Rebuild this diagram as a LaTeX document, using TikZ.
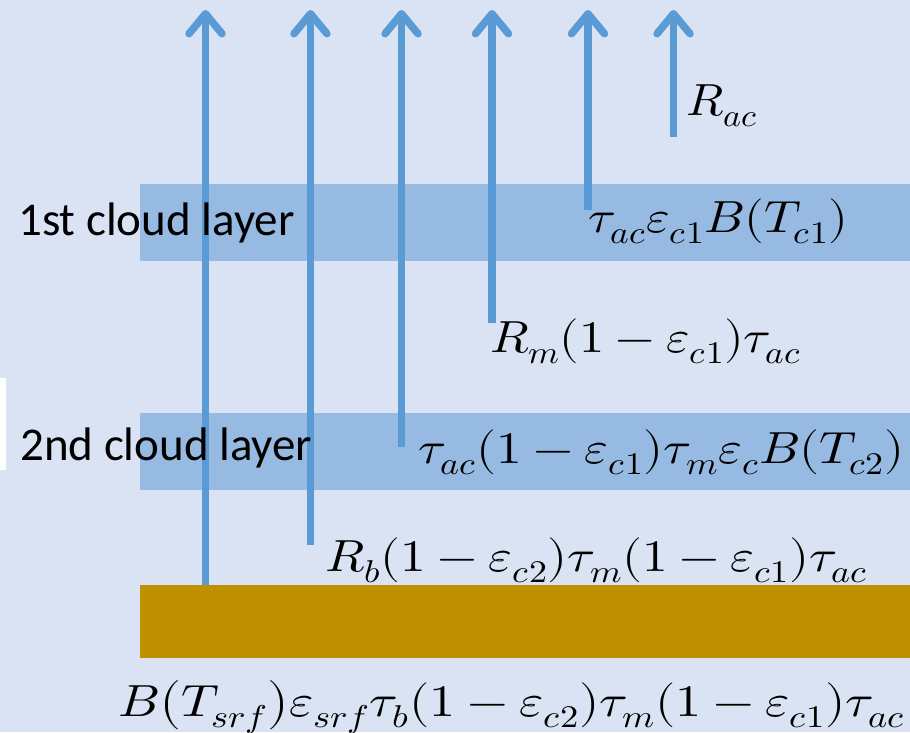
\documentclass[tikz,border=0pt]{standalone}
\usepackage{fontspec}
\usepackage{unicode-math}
\usepackage{graphicx}
\setmainfont{Carlito}
\usetikzlibrary{arrows.meta}
\definecolor{bg}{HTML}{DAE3F3}
\definecolor{arr}{HTML}{5B9BD5}
\definecolor{cloudc}{RGB}{150,186,225}
\definecolor{groundc}{HTML}{BF9000}
\newcommand\widemath[2]{\scalebox{#1}[1]{$#2$}}
\tikzset{
  up/.style={draw=arr, line width=7.5pt, line cap=butt,
    -{Straight Barb[length=20pt,width=33pt,line cap=round,round]}},
  lbl/.style={anchor=base west, inner sep=0pt, font=\fontsize{47}{56}\selectfont},
  eq/.style={anchor=base west, inner sep=0pt, font=\fontsize{45}{52}\selectfont},
  band/.style={fill=cloudc}
}
\begin{document}
\begin{tikzpicture}[x=1pt,y=-1pt]
\fill[bg] (0,0) rectangle (910,732);
\useasboundingbox (0,0) rectangle (910,732);
\fill[white] (0,378) rectangle (6,470);
\fill[band] (140,184) rectangle (910,261);
\fill[band] (140,413) rectangle (910,490);
\fill[groundc] (140,585) rectangle (910,658);
% arrow coordinates
\coordinate (s1) at (205.5,585); \coordinate (e1) at (205.5,10);
\coordinate (s2) at (310.5,545); \coordinate (e2) at (310.5,10);
\coordinate (s3) at (401.5,447); \coordinate (e3) at (401.5,10);
\coordinate (s4) at (492,323);   \coordinate (e4) at (492,10);
\coordinate (s5) at (588,210);   \coordinate (e5) at (588,10);
\coordinate (s6) at (673.5,137); \coordinate (e6) at (673.5,10);
\foreach \i in {1,...,6}{\draw[up] (s\i) -- (e\i);}
% labels
\node[lbl] (l1) at (18,235) {1st cloud layer};
\node[lbl] (l2) at (20,460) {2nd cloud layer};
\node[eq] (rac) at (686,115) {\widemath{1.08}{R_{ac}}};
\node[eq] (c1) at (588,232) {\widemath{1.13}{\tau_{ac}\varepsilon_{c1}B(T_{c1})}};
\node[eq] (rm) at (490,352) {\widemath{1.12}{R_m(1-\varepsilon_{c1})\tau_{ac}}};
\node[eq] (c2) at (418,463) {\widemath{1.14}{\tau_{ac}(1-\varepsilon_{c1})\tau_m\varepsilon_c B(T_{c2})}};
\node[eq] (rb) at (325,571) {\widemath{1.14}{R_b(1-\varepsilon_{c2})\tau_m(1-\varepsilon_{c1})\tau_{ac}}};
\node[eq] (sf) at (118,716) {\widemath{1.16}{B\bigl(T_{srf}\bigr)\varepsilon_{srf}\tau_b(1-\varepsilon_{c2})\tau_m(1-\varepsilon_{c1})\tau_{ac}}};
\end{tikzpicture}
\end{document}
